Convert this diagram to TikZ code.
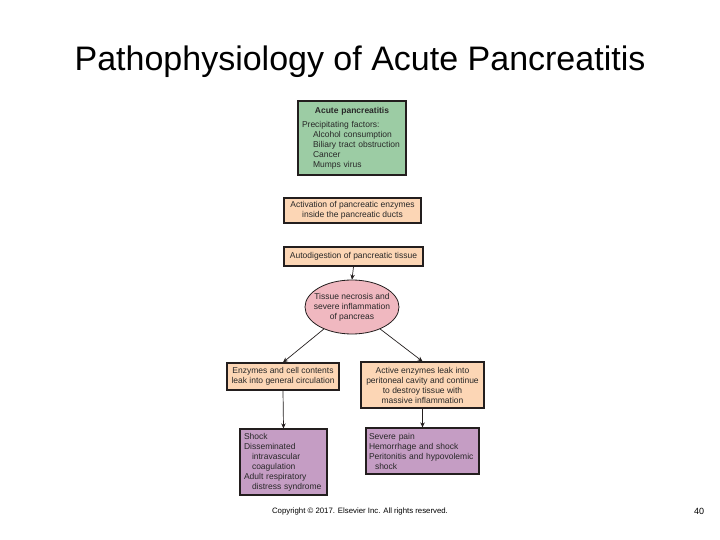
\documentclass[tikz,border=0pt]{standalone}
\usepackage{fontspec}
\setmainfont{Liberation Sans}
\usetikzlibrary{shapes.geometric,arrows.meta}
\definecolor{greenbox}{RGB}{156,204,164}
\definecolor{salmonbox}{RGB}{252,214,181}
\definecolor{pinkell}{RGB}{240,184,192}
\definecolor{purplebox}{RGB}{197,157,196}
\definecolor{edgecol}{RGB}{35,30,30}
\definecolor{txtcol}{RGB}{40,40,40}
\tikzset{
  box/.style={draw=edgecol, line width=1.2bp, rectangle, inner xsep=3bp, inner ysep=1bp,
    text=txtcol, font=\fontsize{8.5bp}{10bp}\selectfont},
  ellbox/.style={draw=edgecol, line width=0.8bp, ellipse, inner xsep=-9bp, inner ysep=0pt, fill=pinkell,
    text=txtcol, font=\fontsize{8.5bp}{10bp}\selectfont, align=center},
  conn/.style={draw=edgecol, line width=0.7bp, -{Stealth[length=5bp,width=4.5bp]}},
}
\begin{document}
\begin{tikzpicture}[x=1bp,y=-1bp]
\useasboundingbox (0,0) rectangle (720,540);
\node[font=\fontsize{34bp}{40bp}\selectfont, text=black] (title) at (360,62) {Pathophysiology of Acute Pancreatitis};

\node[box, fill=greenbox, inner xsep=4bp, text width=100bp, minimum height=74bp, align=left] (acute) at (352,138)
  {\makebox[100bp]{\bfseries Acute pancreatitis}\\[4bp]
   Precipitating factors:\\
   \hspace*{11bp}Alcohol consumption\\
   \hspace*{11bp}Biliary tract obstruction\\
   \hspace*{11bp}Cancer\\
   \hspace*{11bp}Mumps virus};

\node[box, fill=salmonbox, minimum width=137bp, minimum height=25bp, align=center] (activ) at (352.5,210.5)
  {Activation of pancreatic enzymes\\inside the pancreatic ducts};

\node[box, fill=salmonbox, minimum width=139bp, minimum height=19bp, align=center] (autod) at (353.5,256.5)
  {Autodigestion of pancreatic tissue};

\node[ellbox, minimum width=94bp, minimum height=54bp] (necro) at (352,307)
  {Tissue necrosis and\\severe inflammation\\of pancreas};

\node[box, fill=salmonbox, minimum width=112bp, minimum height=27bp, align=center] (leftb) at (283,376.5)
  {Enzymes and cell contents\\leak into general circulation};

\node[box, fill=salmonbox, minimum width=123bp, minimum height=46bp, align=center] (rightb) at (422.5,385)
  {Active enzymes leak into\\peritoneal cavity and continue\\to destroy tissue with\\massive inflammation};

\node[box, fill=purplebox, inner xsep=4bp, text width=79bp, minimum height=66bp, align=left] (shock) at (283.5,462)
  {Shock\\Disseminated\\\hspace*{8bp}intravascular\\\hspace*{8bp}coagulation\\Adult respiratory\\\hspace*{8bp}distress syndrome};

\node[box, fill=purplebox, inner xsep=3bp, text width=107bp, minimum height=46bp, align=left] (severe) at (422.5,451)
  {Severe pain\\Hemorrhage and shock\\Peritonitis and hypovolemic\\\hspace*{6bp}shock};

\draw[conn] (autod.south) -- (necro.north);
\draw[conn] (necro.218) -- (leftb.north);
\draw[conn] (necro.-38) -- (rightb.north);
\draw[conn] (leftb.south) -- (shock.north);
\draw[conn] (rightb.south) -- (severe.north);

\node[font=\fontsize{7.8bp}{9bp}\selectfont, text=black] (copy) at (360,511) {Copyright © 2017. Elsevier Inc. All rights reserved.};
\node[font=\fontsize{9bp}{10bp}\selectfont, text=black] (pagenum) at (699,511) {40};
\end{tikzpicture}
\end{document}
